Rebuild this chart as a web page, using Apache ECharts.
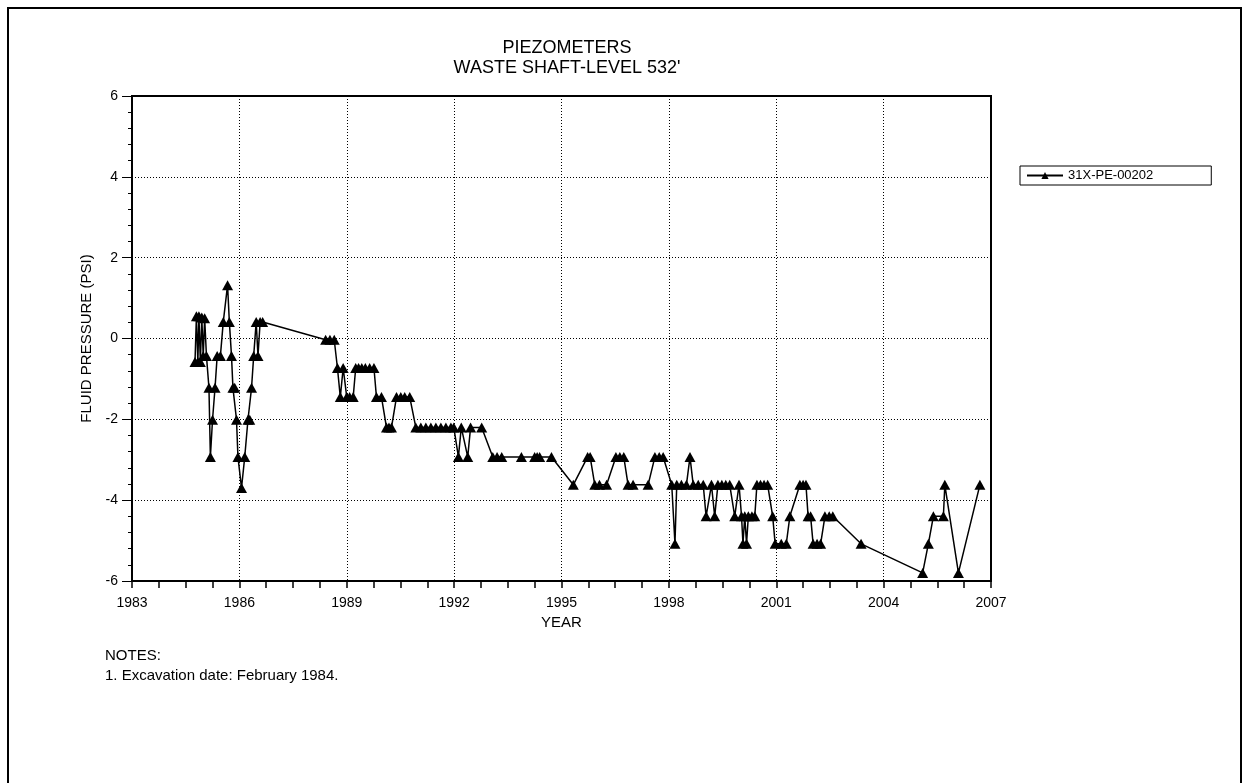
<!DOCTYPE html>
<html>
<head>
<meta charset="utf-8">
<title>Piezometers - Waste Shaft Level 532'</title>
<script src="https://cdn.jsdelivr.net/npm/echarts@6/dist/echarts.min.js"></script>
<style>
  html, body { margin: 0; padding: 0; background: #fff; }
  #chart { width: 1249px; height: 783px; }
</style>
</head>
<body>
<div id="chart"></div>
<script>
// Piezometer 31X-PE-00202 readings: decimal year and fluid pressure (psi)
const years = [
  1984.76, 1984.80, 1984.84, 1984.87, 1984.91, 1984.95, 1984.99, 1985.03, 1985.08,
  1985.15, 1985.19, 1985.25, 1985.32, 1985.38, 1985.47, 1985.55, 1985.67, 1985.72,
  1985.78, 1985.82, 1985.87, 1985.92, 1985.96, 1986.06, 1986.15, 1986.24, 1986.29,
  1986.34, 1986.40, 1986.47, 1986.52, 1986.58, 1986.65,
  1988.41, 1988.53, 1988.65, 1988.74, 1988.82, 1988.90, 1989.00, 1989.08, 1989.18,
  1989.25, 1989.33, 1989.42, 1989.52, 1989.64, 1989.76, 1989.83, 1989.97,
  1990.11, 1990.18, 1990.25, 1990.39, 1990.51, 1990.62, 1990.76,
  1990.93, 1991.07, 1991.21, 1991.35, 1991.49, 1991.63, 1991.77, 1991.91,
  1991.99, 1992.12, 1992.20, 1992.38, 1992.46, 1992.77,
  1993.08, 1993.20, 1993.33, 1993.88, 1994.25, 1994.32, 1994.39, 1994.72,
  1995.33, 1995.73, 1995.80, 1995.93, 1996.06, 1996.26, 1996.52, 1996.63, 1996.74,
  1996.86, 1997.00, 1997.42, 1997.61, 1997.73, 1997.84,
  1998.08, 1998.17, 1998.22, 1998.35, 1998.49, 1998.59, 1998.68, 1998.82, 1998.96,
  1999.04, 1999.19, 1999.28, 1999.37, 1999.48, 1999.59, 1999.70, 1999.84, 1999.96,
  2000.03, 2000.07, 2000.12, 2000.17, 2000.22, 2000.32, 2000.40,
  2000.46, 2000.56, 2000.66, 2000.76, 2000.90, 2000.97, 2001.14, 2001.28, 2001.38,
  2001.66, 2001.75, 2001.83, 2001.89, 2001.96, 2002.03, 2002.14, 2002.24,
  2002.36, 2002.48, 2002.58, 2003.37, 2005.09, 2005.25, 2005.39, 2005.67, 2005.71,
  2006.09, 2006.69
];
const psi = [
  -0.58, 0.55, -0.58, 0.55, -0.58, 0.52, -0.43, 0.50, -0.43,
  -1.22, -2.93, -2.01, -1.22, -0.43, -0.43, 0.41, 1.32, 0.41,
  -0.43, -1.22, -1.22, -2.01, -2.93, -3.70, -2.93, -2.01, -2.01,
  -1.22, -0.43, 0.41, -0.43, 0.41, 0.41,
  -0.03, -0.03, -0.03, -0.73, -1.45, -0.73, -1.45, -1.45, -1.45,
  -0.73, -0.73, -0.73, -0.73, -0.73, -0.73, -1.45, -1.45,
  -2.20, -2.20, -2.20, -1.45, -1.45, -1.45, -1.45,
  -2.20, -2.20, -2.20, -2.20, -2.20, -2.20, -2.20, -2.20,
  -2.20, -2.93, -2.20, -2.93, -2.20, -2.20,
  -2.93, -2.93, -2.93, -2.93, -2.93, -2.93, -2.93, -2.93,
  -3.62, -2.93, -2.93, -3.62, -3.62, -3.62, -2.93, -2.93, -2.93,
  -3.62, -3.62, -3.62, -2.93, -2.93, -2.93,
  -3.62, -5.08, -3.62, -3.62, -3.62, -2.93, -3.62, -3.62, -3.62,
  -4.40, -3.62, -4.40, -3.62, -3.62, -3.62, -3.62, -4.40, -3.62,
  -4.40, -5.08, -4.40, -5.08, -4.40, -4.40, -4.40,
  -3.62, -3.62, -3.62, -3.62, -4.40, -5.08, -5.08, -5.08, -4.40,
  -3.62, -3.62, -3.62, -4.40, -4.40, -5.08, -5.08, -5.08,
  -4.40, -4.40, -4.40, -5.08, -5.80, -5.08, -4.40, -4.40, -3.62,
  -5.80, -3.62
];

// Axis ranges and tick spacing
const xRange = [1983, 2007];
const xStep = 3;
const yRange = [-6, 6];
const yStep = 2;

const seriesName = '31X-PE-00202';
const titleLines = ['PIEZOMETERS', "WASTE SHAFT-LEVEL 532'"];
const xTitle = 'YEAR';
const yTitle = 'FLUID PRESSURE (PSI)';
const notes = ['NOTES:', '1. Excavation date: February 1984.'];

const FONT = "'Liberation Sans', Arial, sans-serif";
const points = years.map((y, i) => [y, psi[i]]);

const chart = echarts.init(document.getElementById('chart'), null, { renderer: 'canvas' });

chart.setOption({
  backgroundColor: '#fff',
  animation: false,
  title: {
    text: titleLines.join('\n'),
    left: 562,
    top: 33,
    textAlign: 'center',
    textStyle: { fontFamily: FONT, fontSize: 18, fontWeight: 'normal', color: '#000', lineHeight: 20 }
  },
  legend: {
    left: 1020,
    top: 166,
    padding: [3, 58, 3, 6],
    borderColor: '#000',
    borderWidth: 1,
    itemWidth: 36,
    itemHeight: 9,
    textStyle: { fontFamily: FONT, fontSize: 13, color: '#000' },
    data: [seriesName]
  },
  grid: {
    left: 132,
    right: 258,
    top: 96,
    bottom: 202,
    show: true,
    borderColor: '#000',
    borderWidth: 2,
    backgroundColor: 'transparent'
  },
  xAxis: {
    type: 'value',
    min: xRange[0],
    max: xRange[1],
    interval: xStep,
    name: xTitle,
    nameLocation: 'middle',
    nameGap: 31,
    nameTextStyle: { fontFamily: FONT, fontSize: 15, color: '#000' },
    axisLine: { show: true, onZero: false, lineStyle: { color: '#000', width: 2 } },
    axisTick: { show: true, inside: false, length: 7, lineStyle: { color: '#000', width: 1.5 } },
    minorTick: { show: true, splitNumber: 4, length: 7, lineStyle: { color: '#000', width: 1.5 } },
    axisLabel: {
      fontFamily: FONT, fontSize: 14, color: '#000', margin: 15,
      formatter: v => String(Math.round(v))
    },
    splitLine: { show: true, lineStyle: { color: '#000', width: 1, type: [1, 2] } },
    minorSplitLine: { show: false }
  },
  yAxis: {
    type: 'value',
    min: yRange[0],
    max: yRange[1],
    interval: yStep,
    name: yTitle,
    nameLocation: 'middle',
    nameRotate: 90,
    nameGap: 36,
    nameTextStyle: { fontFamily: FONT, fontSize: 15, color: '#000' },
    axisLine: { show: true, onZero: false, lineStyle: { color: '#000', width: 2 } },
    axisTick: { show: true, inside: false, length: 10, lineStyle: { color: '#000', width: 1 } },
    minorTick: { show: true, splitNumber: 5, length: 4, lineStyle: { color: '#000', width: 1 } },
    axisLabel: { fontFamily: FONT, fontSize: 14, color: '#000', margin: 14 },
    splitLine: { show: true, lineStyle: { color: '#000', width: 1, type: [1, 2] } }
  },
  series: [{
    name: seriesName,
    type: 'line',
    data: points,
    symbol: 'triangle',
    symbolSize: [11, 10],
    showAllSymbol: true,
    color: '#000',
    itemStyle: { color: '#000' },
    lineStyle: { color: '#000', width: 1.5 }
  }],
  graphic: [
    {
      type: 'rect',
      shape: { x: 8, y: 8, width: 1233, height: 800 },
      style: { fill: 'none', stroke: '#000', lineWidth: 2 },
      silent: true
    },
    {
      type: 'text',
      left: 105,
      top: 646,
      style: { text: notes.join('\n'), font: "15px 'Liberation Sans', Arial, sans-serif", fill: '#000', lineHeight: 20 }
    }
  ]
});
</script>
</body>
</html>
